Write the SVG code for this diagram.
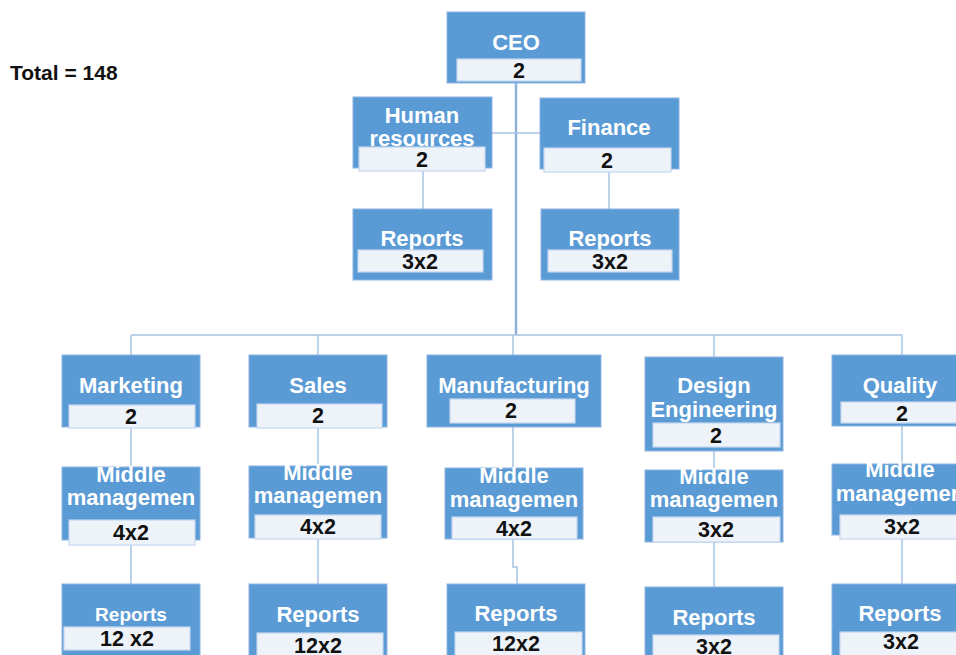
<svg xmlns="http://www.w3.org/2000/svg" width="956" height="655" viewBox="0 0 956 655">
  <style>
    .box { fill: #5B9BD5; stroke: #8DB4E2; stroke-width: 1; }
    .val { fill: #EEF3FA; stroke: #C3D7EE; stroke-width: 1.2; }
    .ttl { font-family: "Liberation Sans", Arial, sans-serif; font-weight: bold; font-size: 22px; fill: #FFFFFF; text-anchor: middle; }
    .small { font-size: 19px; }
    .num { font-family: "Liberation Sans", Arial, sans-serif; font-weight: bold; font-size: 21.5px; fill: #111111; text-anchor: middle; }
    .lnk { fill: none; stroke: #A6C4E4; stroke-width: 1.5; }
    .trunk { fill: none; stroke: #8EB1D9; stroke-width: 2.5; }
    .total { font-family: "Liberation Sans", Arial, sans-serif; font-weight: bold; font-size: 21px; fill: #111111; }
  </style>

  <rect width="956" height="655" fill="#FFFFFF"/>

  <text class="total" x="10" y="80">Total = 148</text>

  <!-- connectors -->
  <g id="connectors">
    <path class="trunk" d="M516 83 V335"/>
    <path class="lnk" d="M492 133 H540"/>
    <path class="lnk" d="M423 171 V209"/>
    <path class="lnk" d="M609 172 V209"/>
    <path class="lnk" d="M131 335 H902"/>
    <path class="lnk" d="M131 335 V355"/>
    <path class="lnk" d="M318 335 V355"/>
    <path class="lnk" d="M513 335 V355"/>
    <path class="lnk" d="M714 335 V357"/>
    <path class="lnk" d="M902 335 V355"/>
    <path class="lnk" d="M131 428 V467"/>
    <path class="lnk" d="M131 545 V584"/>
    <path class="lnk" d="M318 428 V466"/>
    <path class="lnk" d="M318 539 V584"/>
    <path class="lnk" d="M513 423 V468"/>
    <path class="lnk" d="M513 539 V567 H517 V584"/>
    <path class="lnk" d="M714 451 V470"/>
    <path class="lnk" d="M714 542 V587"/>
    <path class="lnk" d="M902 426 V464"/>
    <path class="lnk" d="M902 539 V584"/>
  </g>

  <!-- top level -->
  <g id="ceo">
    <rect class="box" x="447" y="12" width="138" height="71"/>
    <text class="ttl" x="516" y="50">CEO</text>
    <rect class="val" x="457" y="59" width="124" height="22"/>
    <text class="num" x="519" y="78">2</text>
  </g>

  <g id="hr">
    <rect class="box" x="353" y="97" width="139" height="71"/>
    <text class="ttl" x="422" y="123">Human</text>
    <text class="ttl" x="422" y="146">resources</text>
    <rect class="val" x="359" y="147" width="126" height="24"/>
    <text class="num" x="422" y="167">2</text>
  </g>

  <g id="finance">
    <rect class="box" x="540" y="98" width="139" height="71"/>
    <text class="ttl" x="609" y="135">Finance</text>
    <rect class="val" x="544" y="148" width="127" height="24"/>
    <text class="num" x="607" y="168">2</text>
  </g>

  <g id="hr-reports">
    <rect class="box" x="353" y="209" width="139" height="71"/>
    <text class="ttl" x="422" y="246">Reports</text>
    <rect class="val" x="358" y="250" width="125" height="22"/>
    <text class="num" x="420" y="269">3x2</text>
  </g>

  <g id="finance-reports">
    <rect class="box" x="541" y="209" width="138" height="71"/>
    <text class="ttl" x="610" y="246">Reports</text>
    <rect class="val" x="548" y="250" width="124" height="22"/>
    <text class="num" x="610" y="269">3x2</text>
  </g>

  <!-- Marketing column -->
  <g id="marketing">
    <rect class="box" x="62" y="355" width="138" height="72"/>
    <text class="ttl" x="131" y="393">Marketing</text>
    <rect class="val" x="69" y="405" width="126" height="23"/>
    <text class="num" x="131" y="424">2</text>
  </g>
  <g id="marketing-mm">
    <rect class="box" x="62" y="467" width="138" height="73"/>
    <text class="ttl" x="131" y="482">Middle</text>
    <text class="ttl" x="131" y="505">managemen</text>
    <rect class="val" x="69" y="520" width="126" height="25"/>
    <text class="num" x="131" y="540">4x2</text>
  </g>
  <g id="marketing-reports">
    <rect class="box" x="62" y="584" width="138" height="80"/>
    <text class="ttl small" x="131" y="621">Reports</text>
    <rect class="val" x="64" y="627" width="126" height="23"/>
    <text class="num" x="127" y="646">12 x2</text>
  </g>

  <!-- Sales column -->
  <g id="sales">
    <rect class="box" x="249" y="355" width="138" height="72"/>
    <text class="ttl" x="318" y="393">Sales</text>
    <rect class="val" x="257" y="404" width="125" height="24"/>
    <text class="num" x="318" y="423">2</text>
  </g>
  <g id="sales-mm">
    <rect class="box" x="249" y="466" width="138" height="72"/>
    <text class="ttl" x="318" y="480">Middle</text>
    <text class="ttl" x="318" y="503">managemen</text>
    <rect class="val" x="255" y="515" width="126" height="24"/>
    <text class="num" x="318" y="534">4x2</text>
  </g>
  <g id="sales-reports">
    <rect class="box" x="249" y="584" width="138" height="80"/>
    <text class="ttl" x="318" y="622">Reports</text>
    <rect class="val" x="257" y="633" width="126" height="30"/>
    <text class="num" x="318" y="653">12x2</text>
  </g>

  <!-- Manufacturing column -->
  <g id="manufacturing">
    <rect class="box" x="427" y="355" width="174" height="72"/>
    <text class="ttl" x="514" y="393">Manufacturing</text>
    <rect class="val" x="450" y="399" width="125" height="24"/>
    <text class="num" x="511" y="418">2</text>
  </g>
  <g id="manufacturing-mm">
    <rect class="box" x="445" y="468" width="138" height="71"/>
    <text class="ttl" x="514" y="483">Middle</text>
    <text class="ttl" x="514" y="507">managemen</text>
    <rect class="val" x="452" y="517" width="125" height="22"/>
    <text class="num" x="514" y="536">4x2</text>
  </g>
  <g id="manufacturing-reports">
    <rect class="box" x="447" y="584" width="138" height="80"/>
    <text class="ttl" x="516" y="621">Reports</text>
    <rect class="val" x="455" y="632" width="127" height="30"/>
    <text class="num" x="516" y="651">12x2</text>
  </g>

  <!-- Design Engineering column -->
  <g id="design-engineering">
    <rect class="box" x="645" y="357" width="138" height="94"/>
    <text class="ttl" x="714" y="393">Design</text>
    <text class="ttl" x="714" y="417">Engineering</text>
    <rect class="val" x="653" y="423" width="127" height="24"/>
    <text class="num" x="716" y="443">2</text>
  </g>
  <g id="design-engineering-mm">
    <rect class="box" x="645" y="470" width="138" height="72"/>
    <text class="ttl" x="714" y="484">Middle</text>
    <text class="ttl" x="714" y="507">managemen</text>
    <rect class="val" x="653" y="517" width="127" height="25"/>
    <text class="num" x="716" y="537">3x2</text>
  </g>
  <g id="design-engineering-reports">
    <rect class="box" x="645" y="587" width="138" height="80"/>
    <text class="ttl" x="714" y="625">Reports</text>
    <rect class="val" x="653" y="635" width="126" height="30"/>
    <text class="num" x="714" y="654">3x2</text>
  </g>

  <!-- Quality column -->
  <g id="quality">
    <rect class="box" x="832" y="355" width="138" height="71"/>
    <text class="ttl" x="900" y="393">Quality</text>
    <rect class="val" x="841" y="402" width="125" height="21"/>
    <text class="num" x="902" y="421">2</text>
  </g>
  <g id="quality-mm">
    <rect class="box" x="832" y="464" width="138" height="71"/>
    <text class="ttl" x="900" y="477">Middle</text>
    <text class="ttl" x="900" y="501">managemen</text>
    <rect class="val" x="840" y="515" width="126" height="24"/>
    <text class="num" x="902" y="534">3x2</text>
  </g>
  <g id="quality-reports">
    <rect class="box" x="832" y="584" width="138" height="80"/>
    <text class="ttl" x="900" y="621">Reports</text>
    <rect class="val" x="840" y="632" width="126" height="30"/>
    <text class="num" x="901" y="649">3x2</text>
  </g>
</svg>
